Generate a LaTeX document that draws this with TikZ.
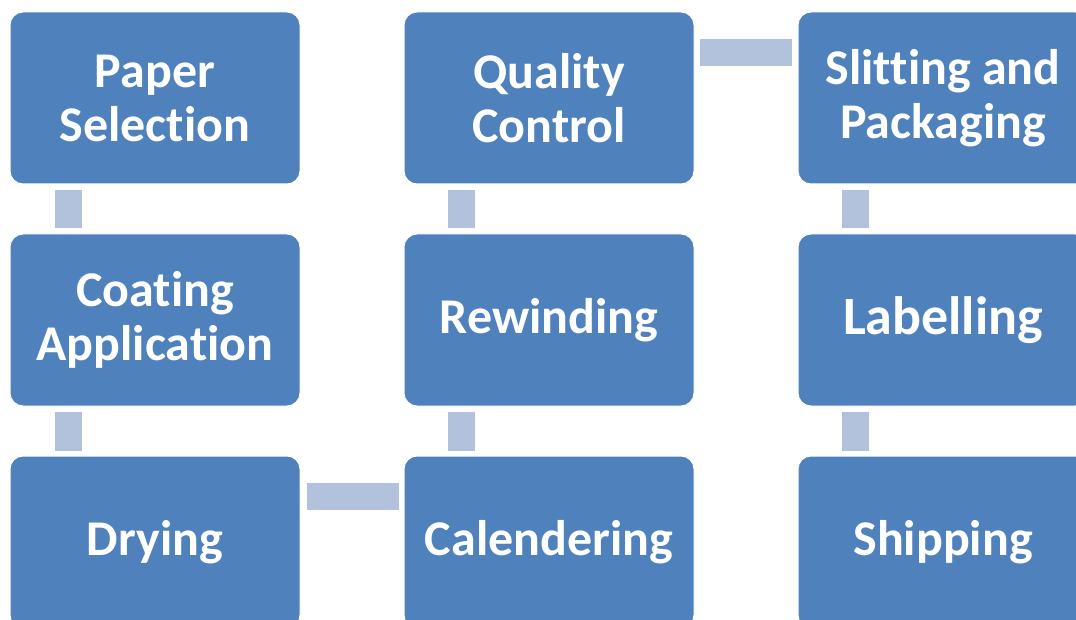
\documentclass[tikz,border=0pt]{standalone}
\usepackage{fontspec}
\setmainfont[Ligatures=NoCommon]{Carlito}
\usetikzlibrary{calc}

\definecolor{stepblue}{HTML}{4F81BD}
\definecolor{linkgrey}{HTML}{B3C2DC}

\tikzset{
  stepbox/.style={rectangle, rounded corners=13pt, fill=stepblue, draw=white,
    line width=1pt, minimum width=290pt, minimum height=172pt, inner sep=0pt,
    text=white, align=center, font=\fontsize{50}{54}\selectfont\bfseries},
  linkbar/.style={fill=linkgrey}
}

\begin{document}
\begin{tikzpicture}[x=1pt,y=-1pt]
\useasboundingbox (0,0) rectangle (1076,620);
\clip (0,0) rectangle (1076,620);

% First column
\node[stepbox] (paper) at (155,98) {Paper\\Selection};
\node[stepbox] (coating) at (155,320) {Coating\\Application};
\node[stepbox] (drying) at (155,542) {Drying};

% Second column
\node[stepbox] (quality) at (549,98) {Quality\\Control};
\node[stepbox] (rewind) at (549,320) {Rewinding};
\node[stepbox] (calender) at (549,542) {Calendering};

% Third column
\node[stepbox] (slitting) at (943,98) {Slitting and\\Packaging};
\node[stepbox, font=\fontsize{54}{58}\selectfont\bfseries] (label) at (943,320) {Labelling};
\node[stepbox] (ship) at (943,542) {Shipping};

% Links down the columns
\fill[linkbar] ($(paper.south west)+(45,6)$) rectangle ($(coating.north west)+(72,-5)$);
\fill[linkbar] ($(coating.south west)+(45,5)$) rectangle ($(drying.north west)+(72,-5)$);
\fill[linkbar] ($(calender.north west)+(44,-5)$) rectangle ($(rewind.south west)+(71,5)$);
\fill[linkbar] ($(rewind.north west)+(44,-5)$) rectangle ($(quality.south west)+(71,6)$);
\fill[linkbar] ($(slitting.south west)+(44,6)$) rectangle ($(label.north west)+(71,-5)$);
\fill[linkbar] ($(label.south west)+(44,5)$) rectangle ($(ship.north west)+(71,-5)$);

% Links across the rows
\fill[linkbar] ($(drying.north east)+(6,27)$) rectangle ($(calender.north west)+(-5,54)$);
\fill[linkbar] ($(quality.north east)+(5,28)$) rectangle ($(slitting.north west)+(-6,55)$);
\end{tikzpicture}
\end{document}
